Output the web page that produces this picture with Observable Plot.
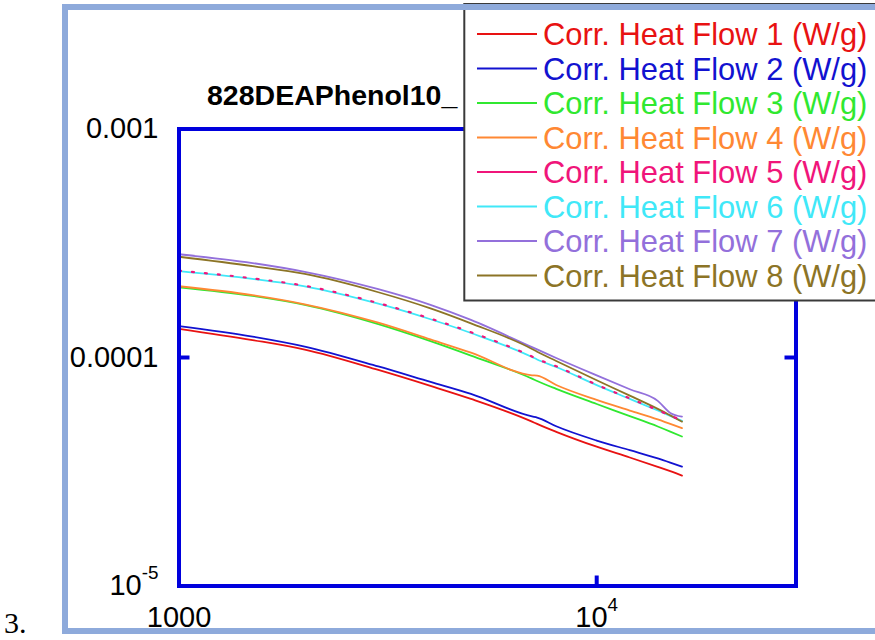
<!DOCTYPE html>
<html><head><meta charset="utf-8">
<script src="https://cdn.jsdelivr.net/npm/d3@7"></script>
<script src="https://cdn.jsdelivr.net/npm/@observablehq/plot@0.6"></script>
<style>
body{margin:0;background:#fff;}
#wrap{position:relative;width:875px;height:640px;overflow:hidden;background:#fff;}
#wrap > svg{position:absolute;left:0;top:0;}
</style></head><body><div id="wrap"></div>
<script>
// time (x) positions where curves were read
const time = [1000, 1500, 2000, 3000, 4000, 5000, 7000, 7200, 8000, 10000, 12000, 14000, 15000, 16000];
const hf1 = [1.336e-4, 1.192e-4, 1.083e-4, 8.82e-5, 7.51e-5, 6.59e-5, 5.24e-5, 5.12e-5, 4.73e-5, 4.07e-5, 3.65e-5, 3.32e-5, 3.18e-5, 3.04e-5];
const hf2 = [1.373e-4, 1.235e-4, 1.117e-4, 9.14e-5, 7.82e-5, 6.93e-5, 5.52e-5, 5.46e-5, 5.00e-5, 4.33e-5, 3.93e-5, 3.62e-5, 3.47e-5, 3.33e-5];
const hf3 = [2.03e-4, 1.86e-4, 1.70e-4, 1.40e-4, 1.18e-4, 1.02e-4, 8.08e-5, 7.89e-5, 7.29e-5, 6.26e-5, 5.54e-5, 4.99e-5, 4.74e-5, 4.51e-5];
const hf4 = [2.05e-4, 1.875e-4, 1.71e-4, 1.42e-4, 1.20e-4, 1.05e-4, 8.36e-5, 8.33e-5, 7.58e-5, 6.52e-5, 5.86e-5, 5.36e-5, 5.12e-5, 4.91e-5];
const hf5 = [2.40e-4, 2.22e-4, 2.06e-4, 1.73e-4, 1.48e-4, 1.29e-4, 1.01e-4, 9.85e-5, 9.15e-5, 7.60e-5, 6.62e-5, 5.88e-5, 5.57e-5, 5.30e-5];
const hf6 = [2.39e-4, 2.21e-4, 2.05e-4, 1.72e-4, 1.47e-4, 1.28e-4, 1.005e-4, 9.80e-5, 9.09e-5, 7.57e-5, 6.59e-5, 5.86e-5, 5.55e-5, 5.28e-5];
const hf7 = [2.83e-4, 2.59e-4, 2.37e-4, 1.99e-4, 1.70e-4, 1.46e-4, 1.11e-4, 1.085e-4, 9.95e-5, 8.35e-5, 7.26e-5, 6.46e-5, 5.72e-5, 5.51e-5];
const hf8 = [2.76e-4, 2.51e-4, 2.32e-4, 1.93e-4, 1.64e-4, 1.41e-4, 1.09e-4, 1.06e-4, 9.65e-5, 7.95e-5, 6.81e-5, 5.96e-5, 5.58e-5, 5.24e-5];

const seriesNames = [
  "Corr. Heat Flow 1 (W/g)", "Corr. Heat Flow 2 (W/g)", "Corr. Heat Flow 3 (W/g)", "Corr. Heat Flow 4 (W/g)",
  "Corr. Heat Flow 5 (W/g)", "Corr. Heat Flow 6 (W/g)", "Corr. Heat Flow 7 (W/g)", "Corr. Heat Flow 8 (W/g)"
];
const seriesColors = ["#e81212", "#1212d0", "#30e830", "#ff8833", "#f0157a", "#40e8f8", "#9370db", "#8c7426"];

const xTicks = [1000, 10000];
const xTickLabels = ["1000", "10^4"];
const yTicks = [1e-5, 1e-4, 1e-3];
const yTickLabels = ["10^-5", "0.0001", "0.001"];
const titleText = "828DEAPhenol10_";
const figLabel = "3.";

const values = [hf1, hf2, hf3, hf4, hf5, hf6, hf7, hf8];
const rows = [];
values.forEach((arr, s) => arr.forEach((v, i) => rows.push({series: seriesNames[s], t: time[i], v})));
const seriesRows = s => rows.filter(r => r.series === seriesNames[s]);

const font = "'Liberation Sans', Arial, sans-serif";
const FRAME = "#0000dd";
const drawOrder = [0, 1, 2, 3, 5, 6, 7];

const chart = Plot.plot({
  width: 875, height: 640,
  marginLeft: 178.5, marginRight: 79.5, marginTop: 128.5, marginBottom: 54.5,
  style: {fontFamily: font, background: "transparent", color: "#000"},
  x: {type: "log", domain: [1000, 30000]},
  y: {type: "log", domain: [1e-5, 1e-3]},
  color: {domain: seriesNames, range: seriesColors},
  marks: [
    Plot.axisX(xTicks, {tickSize: 0, tickPadding: 20, fontSize: 29, fill: "#000",
      tickFormat: d => xTickLabels[xTicks.indexOf(d)], label: null}),
    Plot.axisY(yTicks, {tickSize: 0, tickPadding: 20.5, fontSize: 29, fill: "#000",
      tickFormat: d => yTickLabels[yTicks.indexOf(d)], label: null}),
    ...drawOrder.map(s => Plot.line(seriesRows(s), {x: "t", y: "v", stroke: "series", strokeWidth: 1.8, curve: "monotone-x"})),
    Plot.line(seriesRows(4), {x: "t", y: "v", stroke: "series", strokeWidth: 2.2, strokeDasharray: "2 11", curve: "monotone-x"}),
    Plot.tickY([1e-4], {stroke: FRAME, strokeWidth: 4, insetRight: 606}),
    Plot.tickY([1e-4], {stroke: FRAME, strokeWidth: 4, insetLeft: 606}),
    Plot.tickX([1e4], {stroke: FRAME, strokeWidth: 4, insetTop: 447}),
    Plot.tickX([1e4], {stroke: FRAME, strokeWidth: 4, insetBottom: 447}),
    Plot.frame({stroke: FRAME, strokeWidth: 4})
  ]
});

// superscripts for power-of-ten labels
d3.select(chart).selectAll("text").each(function () {
  const m = /^(\d+)\^(-?\d+)$/.exec(this.textContent);
  if (m) {
    const el = d3.select(this);
    el.text(null);
    el.append("tspan").text(m[1]);
    el.append("tspan").attr("dy", -16).attr("font-size", "0.65em").text(m[2]);
  }
});

const wrap = document.getElementById("wrap");
wrap.appendChild(chart);

// overlay: title, legend, outer frame, figure number
const ov = d3.create("svg").attr("width", 875).attr("height", 640);
ov.append("text").attr("x", 207).attr("y", 105).attr("font-family", font)
  .attr("font-weight", "bold").attr("font-size", 28.5).attr("fill", "#000").text(titleText);

const lg = ov.append("g");
lg.append("rect").attr("x", 464.3).attr("y", 4).attr("width", 440).attr("height", 296.5)
  .attr("fill", "#fff").attr("stroke", "#3a3a3a").attr("stroke-width", 2);
seriesNames.forEach((name, i) => {
  const yc = 34 + 34.5 * i;
  lg.append("line").attr("x1", 477).attr("x2", 537).attr("y1", yc).attr("y2", yc)
    .attr("stroke", seriesColors[i]).attr("stroke-width", 1.8);
  lg.append("text").attr("x", 543).attr("y", yc + 11).attr("font-family", font)
    .attr("font-size", 30.9).attr("fill", seriesColors[i]).text(name);
});

ov.append("rect").attr("x", 65).attr("y", 7).attr("width", 900).attr("height", 624)
  .attr("fill", "none").attr("stroke", "#8eaadb").attr("stroke-width", 6);
ov.append("text").attr("x", 4).attr("y", 633)
  .attr("font-family", "'Liberation Serif', 'Times New Roman', serif")
  .attr("font-size", 30).attr("fill", "#000").text(figLabel);

wrap.appendChild(ov.node());
</script></body></html>
